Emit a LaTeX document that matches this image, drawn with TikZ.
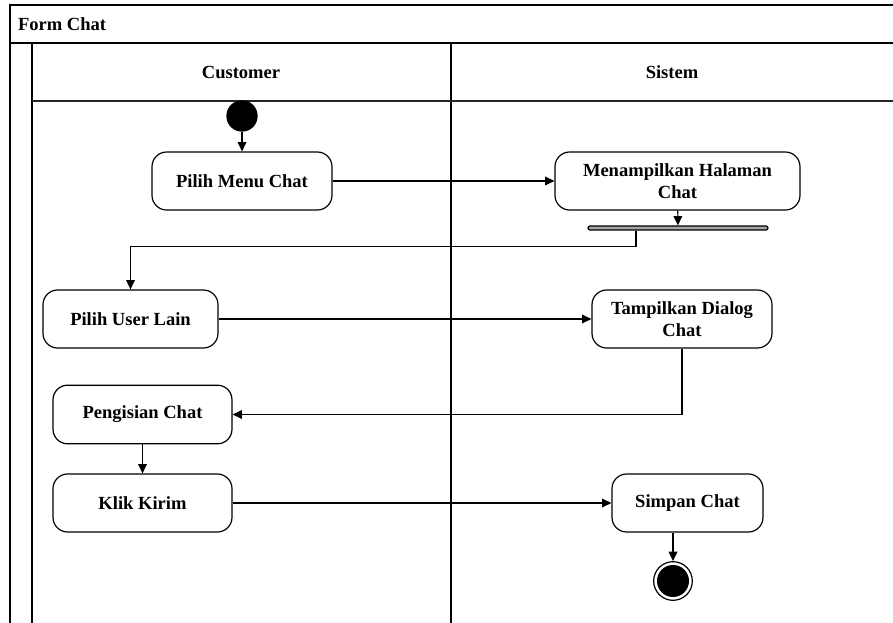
\documentclass[tikz,border=0pt]{standalone}
\usepackage{fontspec}
\setmainfont{Liberation Serif}
\usetikzlibrary{arrows.meta}
\tikzset{
	act/.style={draw, rounded corners=11pt, align=center, inner sep=2pt, minimum height=43.5pt},
	flow/.style={-{Triangle[length=7pt,width=6.5pt]}},
	lbl/.style={font=\bfseries\fontsize{13.9}{16.5}\selectfont}
}
\begin{document}
\begin{tikzpicture}[x=0.75pt, y=-0.75pt, line width=0.9pt, lbl]
				\useasboundingbox (0,0) rectangle (893,623);

				\draw (10,623) -- (10,5) -- (893,5);
				\draw (10,43) -- (893,43);
				\foreach \x in {32,451}
				{
					\draw (\x,43) -- (\x,623);
				}
				\draw[line width=1.6pt, black!85] (32,101) -- (893,101);

				\node[anchor=west] (title) at (13,24) {Form Chat};
				\node (customer) at (241,72) {Customer};
				\node (sistem) at (672,72) {Sistem};

				\node[circle, fill=black, minimum size=23.5pt, inner sep=0] (start) at (242,116) {};
				\node[act, minimum width=135pt] (menu) at (242,181) {Pilih Menu Chat};
				\node[act, minimum width=183.75pt] (halaman) at (677.5,181) {Menampilkan Halaman\\Chat};
				\node[draw, fill=gray!70, rounded corners=1.5pt, minimum width=135pt, minimum height=3pt, inner sep=0] (bar) at (678,228) {};
				\node[act, minimum width=131.25pt] (user) at (130.5,319) {Pilih User Lain};
				\node[act, minimum width=135pt] (dialog) at (682,319) {Tampilkan Dialog\\Chat};
				\node[act, minimum width=134.25pt, minimum height=44pt] (isi) at (142.5,414.5) {Pengisian Chat};
				\node[act, minimum width=134.25pt] (kirim) at (142.5,503) {Klik Kirim};
				\node[act, minimum width=113.25pt] (simpan) at (687.5,503) {Simpan Chat};
				\node[circle, draw, minimum size=29pt, inner sep=0] (stop) at (673,581) {};
				\fill (stop) circle [radius=12pt];

				\draw[flow] (start) -- (menu);
				\draw[flow] (menu) -- (halaman);
				\draw[flow] (halaman) -- (bar);
				\draw[flow] ([xshift=-31.5pt]bar.south) -- ++(0,16) -| (user.north);
				\draw[flow] (user) -- (dialog);
				\draw[flow] (dialog.south) |- (isi.east);
				\draw[flow] (isi) -- (kirim);
				\draw[flow] (kirim) -- (simpan);
				\draw[flow] (simpan.south -| stop) -- (stop);

\end{tikzpicture}
\end{document}
